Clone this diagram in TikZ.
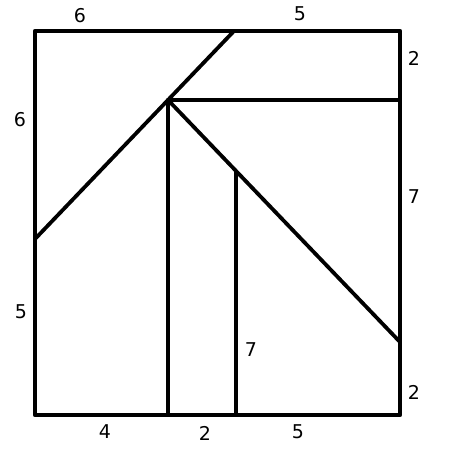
\documentclass[tikz,border=0pt]{standalone}
\usepackage{fontspec}
\setmainfont{DejaVu Sans}
\begin{document}
\begin{tikzpicture}[x=1pt,y=-1pt,
  edge/.style={line width=4.2pt,line cap=round,line join=round},
  inner/.style={line width=3.8pt,line cap=round},
  lbl/.style={font=\fontsize{19}{19}\selectfont,inner sep=0pt}]
\useasboundingbox (0,0) rectangle (450,450);
\coordinate (TL) at (35,31);
\coordinate (TR) at (400,31);
\coordinate (BR) at (400,415);
\coordinate (BL) at (35,415);
\coordinate (T) at (234,31);
\coordinate (P) at (168,100);
\coordinate (L) at (35,239);
\coordinate (H) at (400,100);
\coordinate (R) at (400,342);
\coordinate (PB) at (168,415);
\coordinate (Q) at (236,171.6);
\coordinate (QB) at (236,415);
\draw[edge] (TL) -- (TR) -- (BR) -- (BL) -- cycle;
\draw[inner] (L) -- (P) -- (T);
\draw[inner] (P) -- (H);
\draw[inner] (P) -- (PB);
\draw[inner] (P) -- (R);
\draw[inner] (Q) -- (QB);
\node[lbl] (t6) at (80,16) {6};
\node[lbl] (t5) at (300,14) {5};
\node[lbl] (r2a) at (414,58) {2};
\node[lbl] (l6) at (20,120) {6};
\node[lbl] (r7) at (414,197) {7};
\node[lbl] (l5) at (21,312) {5};
\node[lbl] (m7) at (251,350) {7};
\node[lbl] (r2b) at (414,392) {2};
\node[lbl] (b4) at (105,432) {4};
\node[lbl] (b2) at (205,433) {2};
\node[lbl] (b5) at (298,432) {5};
\end{tikzpicture}
\end{document}
